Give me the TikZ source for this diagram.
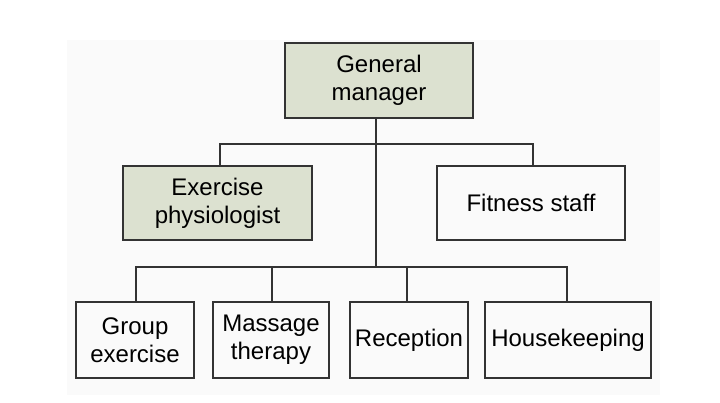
\documentclass[tikz,border=0pt]{standalone}
\usepackage{fontspec}
\setmainfont{Liberation Sans}
\definecolor{boxgreen}{HTML}{DCE1D0}
\definecolor{edge}{HTML}{333333}
\begin{document}
\begin{tikzpicture}[x=1pt,y=-1pt,
  box/.style={draw=edge,line width=1.3pt,inner sep=0pt,align=center,font=\fontsize{24}{28}\selectfont},
  g/.style={fill=boxgreen},
  ln/.style={draw=edge,line width=1.3pt}]
\useasboundingbox (0,0) rectangle (720,402);
\fill[white] (0,0) rectangle (720,402);
\fill[black!2] (67,40) rectangle (660,395);
\node[box,g,minimum width=188pt,minimum height=75pt] (gm) at (379,80.5) {General\\manager};
\node[box,g,minimum width=189pt,minimum height=74pt] (ep) at (217.5,203) {Exercise\\physiologist};
\node[box,minimum width=188pt,minimum height=74pt] (fs) at (531,203) {Fitness staff};
\node[box,minimum width=118pt,minimum height=76pt] (ge) at (135,340) {Group\\exercise};
\node[box,minimum width=116pt,minimum height=76pt] (mt) at (271,340) {Massage\\therapy};
\node[box,minimum width=118pt,minimum height=76pt] (re) at (409,340) {Reception};
\node[box,minimum width=166pt,minimum height=76pt] (hk) at (568,340) {Housekeeping};
\coordinate (j1) at (376,144);
\coordinate (j2) at (376,267);
\draw[ln] (gm.south -| j1) -- (j2);
\draw[ln] (ep.north -| 220,0) |- (j1) -| (fs.north -| 533,0);
\draw[ln] (ge.north -| 136,0) |- (j2) -| (hk.north -| 567,0);
\draw[ln] (mt.north -| 272,0) -- (272,267);
\draw[ln] (re.north -| 407,0) -- (407,267);
\end{tikzpicture}
\end{document}
